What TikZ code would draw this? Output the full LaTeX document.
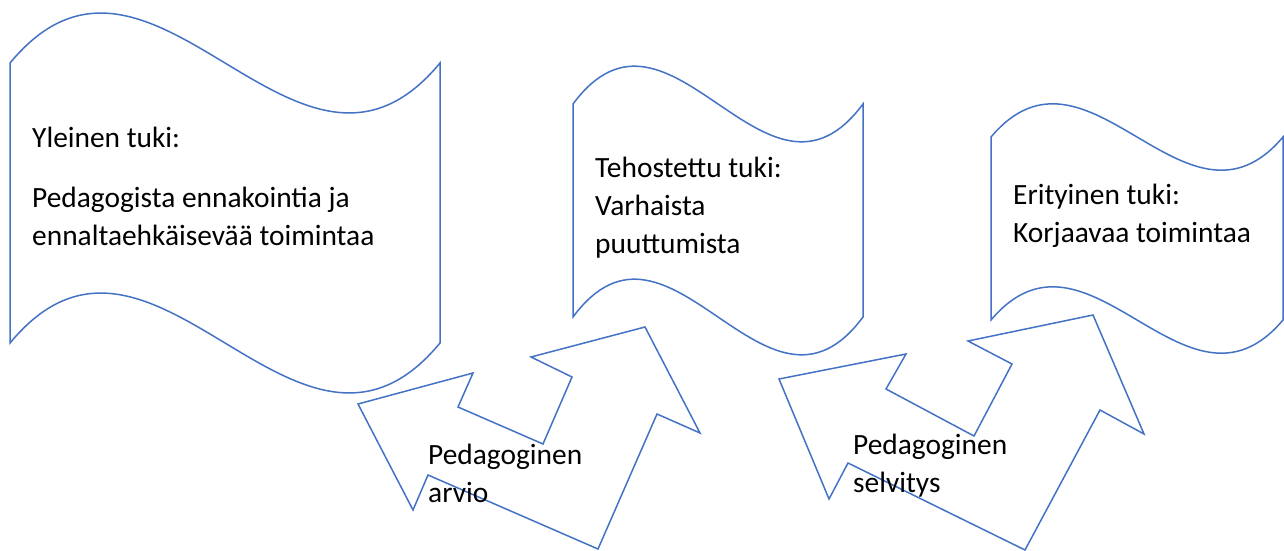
\documentclass[tikz,border=0pt]{standalone}
\usepackage{fontspec}
\setmainfont{Carlito}
\usepackage{xcolor}
\definecolor{officeblue}{HTML}{4472C4}

\begin{document}
\begin{tikzpicture}
			[x=1pt,y=-1pt,
			wavebox/.style={draw=officeblue,line width=1.5pt,fill=white},
			turnarrow/.style={draw=officeblue,line width=1.5pt,fill=white,line join=miter},
			txt/.style={anchor=base west,align=left,inner sep=0pt,text=black,
				font=\fontsize{29.4}{38}\selectfont}]
			
			\useasboundingbox (0,0) rectangle (1284,551);
			
			% tukitasot
			\draw[wavebox] (10,63) .. controls (153,-110) and (297,236) .. (440,63)
			-- (440,343) .. controls (297,516) and (153,170) .. (10,343) -- cycle;
			\draw[wavebox] (573,104) .. controls (670,-27) and (766,235) .. (863,104)
			-- (863,317) .. controls (766,448) and (670,186) .. (573,317) -- cycle;
			\draw[wavebox] (991,137) .. controls (1088,22) and (1186,252) .. (1283,137)
			-- (1283,320) .. controls (1186,435) and (1088,205) .. (991,320) -- cycle;
			
			\node[txt] (yleinen) at (32,245)
			{Yleinen tuki:\\[22pt]Pedagogista ennakointia ja\\ennaltaehkäisevää toimintaa};
			\node[txt] (tehostettu) at (595,253)
			{Tehostettu tuki:\\Varhaista\\puuttumista};
			\node[txt] (erityinen) at (1013,242)
			{Erityinen tuki:\\Korjaavaa toimintaa};
			
			% siirtymät
			\draw[turnarrow] (358,404) -- (473,373) -- (458,407) -- (543,444)
			-- (572,377) -- (531,357) -- (645,327) -- (700,433) -- (657,414)
			-- (598,549) -- (428,475) -- (413,510) -- cycle;
			\draw[turnarrow] (779,379) -- (906,354) -- (886,389) -- (974,436)
			-- (1012,364) -- (968,341) -- (1093,315) -- (1144,434) -- (1100,410)
			-- (1025,550) -- (848,463) -- (829,499) -- cycle;
			
			\node[txt] (arvio) at (428,502) {Pedagoginen\\arvio};
			\node[txt] (selvitys) at (853,492) {Pedagoginen\\selvitys};
			
		\end{tikzpicture}
\end{document}
